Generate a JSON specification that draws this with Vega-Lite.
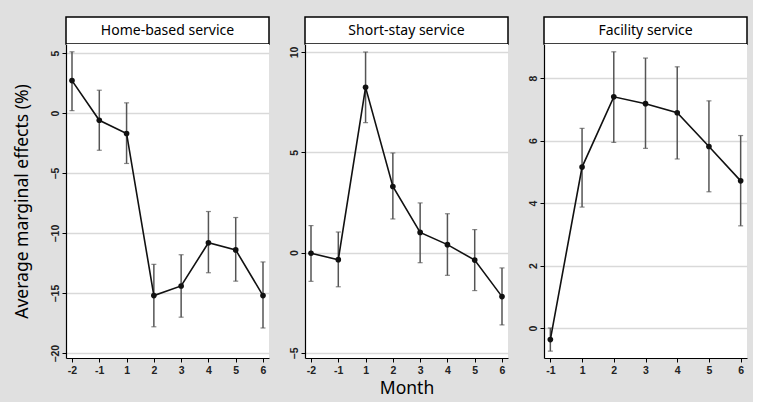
{
  "$schema": "https://vega.github.io/schema/vega-lite/v6.json",
  "background": "#e0e0e0",
  "padding": {"left": 13, "top": 16, "right": 5, "bottom": 5},
  "datasets": {
    "home": [
      {"m": "-2", "v": 2.7, "lo": 0.2, "hi": 5.1},
      {"m": "-1", "v": -0.6, "lo": -3.1, "hi": 1.9},
      {"m": "1", "v": -1.7, "lo": -4.2, "hi": 0.85},
      {"m": "2", "v": -15.2, "lo": -17.8, "hi": -12.6},
      {"m": "3", "v": -14.4, "lo": -17.0, "hi": -11.8},
      {"m": "4", "v": -10.8, "lo": -13.3, "hi": -8.2},
      {"m": "5", "v": -11.4, "lo": -14.0, "hi": -8.7},
      {"m": "6", "v": -15.2, "lo": -17.9, "hi": -12.4}
    ],
    "short": [
      {"m": "-2", "v": -0.03, "lo": -1.43, "hi": 1.35},
      {"m": "-1", "v": -0.35, "lo": -1.7, "hi": 1.03},
      {"m": "1", "v": 8.24, "lo": 6.48, "hi": 10.0},
      {"m": "2", "v": 3.3, "lo": 1.68, "hi": 4.97},
      {"m": "3", "v": 1.01, "lo": -0.5, "hi": 2.48},
      {"m": "4", "v": 0.4, "lo": -1.13, "hi": 1.94},
      {"m": "5", "v": -0.37, "lo": -1.89, "hi": 1.15},
      {"m": "6", "v": -2.19, "lo": -3.6, "hi": -0.76}
    ],
    "fac": [
      {"m": "-1", "v": -0.37, "lo": -0.74, "hi": 0.0},
      {"m": "1", "v": 5.15, "lo": 3.87, "hi": 6.39},
      {"m": "2", "v": 7.4, "lo": 5.94, "hi": 8.84},
      {"m": "3", "v": 7.18, "lo": 5.75, "hi": 8.64},
      {"m": "4", "v": 6.89, "lo": 5.41, "hi": 8.36},
      {"m": "5", "v": 5.81, "lo": 4.36, "hi": 7.27},
      {"m": "6", "v": 4.71, "lo": 3.27, "hi": 6.16}
    ]
  },
  "config": {
    "axis": {
      "domainColor": "#000000",
      "domainWidth": 1.2,
      "tickColor": "#000000",
      "tickSize": 4,
      "labelFont": "Liberation Sans",
      "labelFontSize": 10.5,
      "labelFontWeight": "bold",
      "labelColor": "#222222",
      "titleFont": "Noto Sans",
      "titleFontSize": 17.5,
      "titleFontWeight": "normal",
      "titleColor": "#000000",
      "gridColor": "#d9d9d9",
      "gridWidth": 1.5
    }
  },
  "spacing": 19,
  "hconcat": [
    {
      "vconcat": [
        {
          "width": 203, "height": 27,
          "view": {"stroke": "black", "strokeWidth": 1.5, "fill": "white"},
          "data": {"values": [{"t": "Home-based service"}]},
          "mark": {"type": "text", "font": "Noto Sans", "fontSize": 14, "color": "black"},
          "encoding": {"text": {"field": "t"}}
        },
        {
          "width": 203, "height": 314,
          "view": {"stroke": null, "fill": "white"},
          "data": {"name": "home"},
          "encoding": {
            "x": {"field": "m", "type": "ordinal", "sort": ["-2", "-1", "1", "2", "3", "4", "5", "6"],
                  "scale": {"type": "point", "padding": 0.22},
                  "axis": {"title": null, "labelAngle": 0, "grid": false, "labelPadding": 3}}
          },
          "layer": [
            {
              "mark": {"type": "rule", "color": "#555555", "strokeWidth": 1.5},
              "encoding": {
                "y": {"field": "lo", "type": "quantitative", "title": "Average marginal effects (%)",
                      "scale": {"domain": [-20.4, 5.75], "nice": false, "zero": false},
                      "axis": {"values": [-20, -15, -10, -5, 0, 5], "labelAngle": -90, "grid": true, "titlePadding": 19}},
                "y2": {"field": "hi"}
              }
            },
            {"mark": {"type": "tick", "color": "#555555", "size": 5, "thickness": 1.2},
             "encoding": {"y": {"field": "lo", "type": "quantitative", "title": "Average marginal effects (%)"}}},
            {"mark": {"type": "tick", "color": "#555555", "size": 5, "thickness": 1.2},
             "encoding": {"y": {"field": "hi", "type": "quantitative", "title": "Average marginal effects (%)"}}},
            {"mark": {"type": "line", "color": "#111111", "strokeWidth": 1.6},
             "encoding": {"y": {"field": "v", "type": "quantitative", "title": "Average marginal effects (%)"}}},
            {"mark": {"type": "point", "filled": true, "color": "#111111", "size": 32, "opacity": 1},
             "encoding": {"y": {"field": "v", "type": "quantitative", "title": "Average marginal effects (%)"}}}
          ]
        }
      ],
      "spacing": 0,
      "bounds": "flush"
    },
    {
      "vconcat": [
        {
          "width": 203, "height": 27,
          "view": {"stroke": "black", "strokeWidth": 1.5, "fill": "white"},
          "data": {"values": [{"t": "Short-stay service"}]},
          "mark": {"type": "text", "font": "Noto Sans", "fontSize": 14, "color": "black"},
          "encoding": {"text": {"field": "t"}}
        },
        {
          "width": 203, "height": 314,
          "view": {"stroke": null, "fill": "white"},
          "data": {"name": "short"},
          "encoding": {
            "x": {"field": "m", "type": "ordinal", "sort": ["-2", "-1", "1", "2", "3", "4", "5", "6"],
                  "scale": {"type": "point", "padding": 0.22},
                  "axis": {"title": "Month", "labelAngle": 0, "grid": false, "labelPadding": 3, "titlePadding": 4}}
          },
          "layer": [
            {
              "mark": {"type": "rule", "color": "#555555", "strokeWidth": 1.5},
              "encoding": {
                "y": {"field": "lo", "type": "quantitative", "title": null,
                      "scale": {"domain": [-5.25, 10.4], "nice": false, "zero": false},
                      "axis": {"values": [-5, 0, 5, 10], "labelAngle": -90, "grid": true}},
                "y2": {"field": "hi"}
              }
            },
            {"mark": {"type": "tick", "color": "#555555", "size": 5, "thickness": 1.2},
             "encoding": {"y": {"field": "lo", "type": "quantitative", "title": null}}},
            {"mark": {"type": "tick", "color": "#555555", "size": 5, "thickness": 1.2},
             "encoding": {"y": {"field": "hi", "type": "quantitative", "title": null}}},
            {"mark": {"type": "line", "color": "#111111", "strokeWidth": 1.6},
             "encoding": {"y": {"field": "v", "type": "quantitative", "title": null}}},
            {"mark": {"type": "point", "filled": true, "color": "#111111", "size": 32, "opacity": 1},
             "encoding": {"y": {"field": "v", "type": "quantitative", "title": null}}}
          ]
        }
      ],
      "spacing": 0,
      "bounds": "flush"
    },
    {
      "vconcat": [
        {
          "width": 203, "height": 27,
          "view": {"stroke": "black", "strokeWidth": 1.5, "fill": "white"},
          "data": {"values": [{"t": "Facility service"}]},
          "mark": {"type": "text", "font": "Noto Sans", "fontSize": 14, "color": "black"},
          "encoding": {"text": {"field": "t"}}
        },
        {
          "width": 203, "height": 314,
          "view": {"stroke": null, "fill": "white"},
          "data": {"name": "fac"},
          "encoding": {
            "x": {"field": "m", "type": "ordinal", "sort": ["-1", "1", "2", "3", "4", "5", "6"],
                  "scale": {"type": "point", "padding": 0.2},
                  "axis": {"title": null, "labelAngle": 0, "grid": false, "labelPadding": 3}}
          },
          "layer": [
            {
              "mark": {"type": "rule", "color": "#555555", "strokeWidth": 1.5},
              "encoding": {
                "y": {"field": "lo", "type": "quantitative", "title": null,
                      "scale": {"domain": [-0.96, 9.09], "nice": false, "zero": false},
                      "axis": {"values": [0, 2, 4, 6, 8], "labelAngle": -90, "grid": true}},
                "y2": {"field": "hi"}
              }
            },
            {"mark": {"type": "tick", "color": "#555555", "size": 5, "thickness": 1.2},
             "encoding": {"y": {"field": "lo", "type": "quantitative", "title": null}}},
            {"mark": {"type": "tick", "color": "#555555", "size": 5, "thickness": 1.2},
             "encoding": {"y": {"field": "hi", "type": "quantitative", "title": null}}},
            {"mark": {"type": "line", "color": "#111111", "strokeWidth": 1.6},
             "encoding": {"y": {"field": "v", "type": "quantitative", "title": null}}},
            {"mark": {"type": "point", "filled": true, "color": "#111111", "size": 32, "opacity": 1},
             "encoding": {"y": {"field": "v", "type": "quantitative", "title": null}}}
          ]
        }
      ],
      "spacing": 0,
      "bounds": "flush"
    }
  ]
}
